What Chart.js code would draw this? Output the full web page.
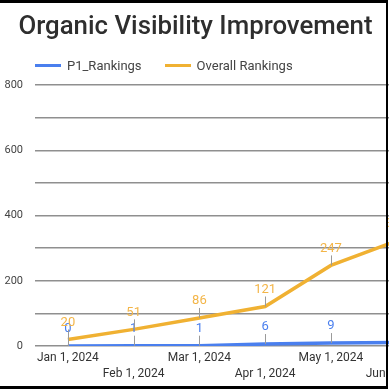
<!DOCTYPE html>
<html>
<head>
<meta charset="utf-8">
<script src="https://cdn.jsdelivr.net/npm/chart.js@4"></script>
<style>
    html, body { margin: 0; padding: 0; background: #fff; }
    body { width: 389px; height: 389px; overflow: hidden; position: relative; font-family: Roboto, sans-serif; }
    #title { position: absolute; left: 0; top: 10px; width: 391px; text-align: center; font-size: 25.8px; font-weight: 500; color: #2e2e2e; white-space: nowrap; }
    #legend { position: absolute; left: 35px; top: 58px; display: flex; align-items: center; font-size: 13px; color: #444; white-space: nowrap; }
    .item { display: flex; align-items: center; margin-right: 23px; }
    .swatch { width: 26px; height: 3px; margin-right: 6px; }
    #wrap { position: absolute; left: 0; top: 0; width: 440px; height: 389px; }
    #frame { position: absolute; left: -3px; top: 0; width: 389px; height: 383px; border-top: 3px solid #000; border-right: 2px solid #000; border-bottom: 3px solid #000; pointer-events: none; box-sizing: content-box; }
</style>
</head>
<body>
<div id="wrap"><canvas id="chart" width="440" height="389"></canvas></div>
<div id="title">Organic Visibility Improvement</div>
<div id="legend"></div>
<div id="frame"></div>
<script>
// chart data
const months = ['Jan 1, 2024', 'Feb 1, 2024', 'Mar 1, 2024', 'Apr 1, 2024', 'May 1, 2024', 'Jun 1, 2024'];
const p1Rankings = [0, 1, 1, 6, 9, 11];
const overallRankings = [20, 51, 86, 121, 247, 322];
const seriesNames = ['P1_Rankings', 'Overall Rankings'];
const seriesColors = ['#4a7fee', '#f0b132'];
const labelColors = ['#4a7fee', '#f3b548'];

// legend
const legendEl = document.getElementById('legend');
seriesNames.forEach((name, i) => {
    const item = document.createElement('div');
    item.className = 'item';
    item.innerHTML = `<span class="swatch" style="background:${seriesColors[i]}"></span><span>${name}</span>`;
    legendEl.appendChild(item);
});

// point labels with small leader lines
const pointLabels = {
    id: 'pointLabels',
    afterDatasetsDraw(chart) {
        const ctx = chart.ctx;
        ctx.save();
        chart.data.datasets.forEach((ds, i) => {
            const meta = chart.getDatasetMeta(i);
            meta.data.forEach((pt, j) => {
                ctx.strokeStyle = '#9a9a9a';
                ctx.lineWidth = 1;
                ctx.beginPath();
                ctx.moveTo(Math.round(pt.x) + 0.5, pt.y);
                ctx.lineTo(Math.round(pt.x) + 0.5, pt.y - 10);
                ctx.stroke();
                ctx.fillStyle = labelColors[i];
                ctx.font = '13px Roboto';
                ctx.textAlign = 'center';
                ctx.textBaseline = 'middle';
                ctx.fillText(String(ds.data[j]), pt.x, pt.y - 17);
            });
        });
        ctx.restore();
    }
};

new Chart(document.getElementById('chart'), {
    type: 'line',
    data: {
        labels: months.map((m, i) => i % 2 ? ['', m] : [m]),
        datasets: [
            { label: seriesNames[0], data: p1Rankings, borderColor: seriesColors[0], backgroundColor: seriesColors[0], borderWidth: 3.5, pointRadius: 0, tension: 0 },
            { label: seriesNames[1], data: overallRankings, borderColor: seriesColors[1], backgroundColor: seriesColors[1], borderWidth: 3.5, pointRadius: 0, tension: 0 }
        ]
    },
    options: {
        responsive: false,
        animation: false,
        layout: { padding: { top: 85, right: 10.5, bottom: 0, left: 0 } },
        plugins: { legend: { display: false }, title: { display: false }, tooltip: { enabled: false } },
        scales: {
            x: {
                offset: true,
                grid: { display: false, drawTicks: false },
                border: { display: false },
                ticks: { autoSkip: false, maxRotation: 0, padding: 4, color: '#333', font: { family: 'Roboto', size: 12, lineHeight: 1.34 } },
                afterFit: s => { s.height = 43; }
            },
            y: {
                min: 0,
                max: 800,
                grid: { color: '#8f8f8f', lineWidth: 1.5, drawTicks: false },
                border: { display: false },
                ticks: {
                    stepSize: 100,
                    padding: 12,
                    color: '#444',
                    font: { family: 'Roboto', size: 11 },
                    callback: v => v % 200 === 0 ? v : ''
                },
                afterFit: s => { s.width = 35; }
            }
        }
    },
    plugins: [pointLabels]
});
</script>
</body>
</html>
